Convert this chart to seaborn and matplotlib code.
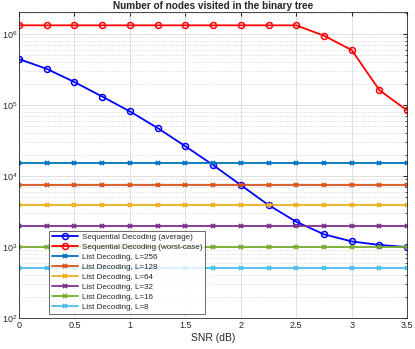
import numpy as np
import matplotlib
matplotlib.use("Agg")
import matplotlib.pyplot as plt
import seaborn as sns
import pandas as pd

#**************************************#
            # data
#**************************************#
snr = [0, 0.25, 0.5, 0.75, 1.0, 1.25, 1.5, 1.75, 2.0, 2.25, 2.5, 2.75, 3.0, 3.25, 3.5]
seq_avg = [4.45e5, 3.24e5, 2.11e5, 1.32e5, 8.15e4, 4.75e4, 2.63e4, 1.43e4,
           7.46e3, 3.9e3, 2.27e3, 1.51e3, 1.2e3, 1.07e3, 1.0e3]
seq_worst = [1.33e6, 1.33e6, 1.33e6, 1.33e6, 1.33e6, 1.33e6, 1.33e6, 1.33e6,
             1.33e6, 1.33e6, 1.33e6, 9.5e5, 5.96e5, 1.62e5, 8.4e4]
list_sizes = [256, 128, 64, 32, 16, 8]
list_nodes = [15100, 7600, 3880, 1950, 995, 505]

seq_labels = ['Sequential Decoding (average)', 'Sequential Decoding (worst-case)']
seq_colors = ['#0000FF', '#FF0000']
list_colors = ['#0072BD', '#D95319', '#EDB120', '#7E2F8E', '#77AC30', '#4DBEEE']

xticks = [0, 0.5, 1, 1.5, 2, 2.5, 3, 3.5]

sns.set_style("white")
plt.rcParams['font.family'] = ['Liberation Sans', 'DejaVu Sans']
plt.rcParams['mathtext.fontset'] = 'custom'
plt.rcParams['mathtext.rm'] = 'Liberation Sans'
plt.rcParams['mathtext.it'] = 'Liberation Sans'

fig = plt.figure(figsize=(4.15, 3.49), dpi=100)
ax = fig.add_axes([0.0458, 0.0888, 0.9354, 0.8768])

# sequential decoding curves
for vals, lab, col in zip([seq_avg, seq_worst], seq_labels, seq_colors):
    sns.lineplot(x=snr, y=vals, color=col, marker='o', markersize=4.3,
                 markerfacecolor='none', markeredgecolor=col, markeredgewidth=1.1,
                 linewidth=1.3, ax=ax, label=lab)

# list decoding (flat lines)
for L, n, col in zip(list_sizes, list_nodes, list_colors):
    sns.lineplot(x=snr, y=[n] * len(snr), color=col, marker='x', markersize=3.5,
                 markeredgecolor=col, markeredgewidth=1.3,
                 linewidth=1.3, ax=ax, label='List Decoding, L=%d' % L)

ax.set_yscale('log')
ax.set_xlim(0, 3.5)
ax.set_ylim(1e2, 2.05e6)
ax.set_xticks(xticks)
ax.set_xticklabels(['0', '0.5', '1', '1.5', '2', '2.5', '3', '3.5'])
ax.tick_params(which='both', direction='in', top=True, right=True, labelsize=6.5,
               colors='#262626', pad=2)
ax.tick_params(which='major', length=3)
ax.tick_params(which='minor', length=1.5)
ax.tick_params(axis='y', pad=1)
ax.grid(True, which='major', color='#DADADA', linewidth=0.6)
ax.grid(True, which='minor', axis='y', color='#CFCFCF', linestyle=':', linewidth=0.6)
ax.set_axisbelow(True)
for sp in ax.spines.values():
    sp.set_color('#262626')
    sp.set_linewidth(0.6)

ax.set_xlabel('SNR (dB)', fontsize=7.5, labelpad=2)
ax.set_ylabel('')
ax.set_title('Number of nodes visited in the binary tree', fontsize=7.2, fontweight='bold', pad=2)

leg = ax.legend(loc='lower left', bbox_to_anchor=(0.074, 0.008),
                fontsize=5.75, frameon=True, fancybox=False, borderpad=0.35,
                labelspacing=0.3, handlelength=3.3, handletextpad=0.4,
                borderaxespad=0.2)
leg.get_frame().set_edgecolor('#262626')
leg.get_frame().set_linewidth(0.6)

plt.savefig("out.png", dpi=100)
plt.close()
